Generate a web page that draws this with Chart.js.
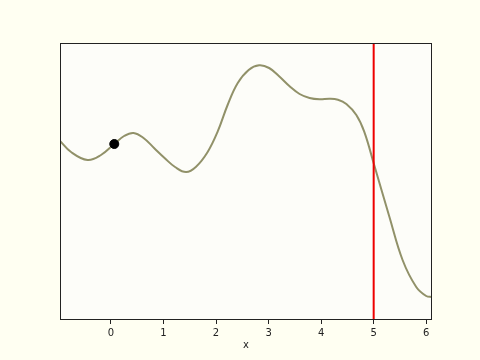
<!DOCTYPE html>
<html lang="en">
<head>
  <meta charset="UTF-8">
  <title>Curve</title>
  <style>
    html, body { margin: 0; padding: 0; background: #fffff2; }
    #wrap { width: 480px; height: 360px; }
  </style>
</head>
<body>

<div id="wrap">
  <canvas id="myChart" width="480" height="360"></canvas>
</div>

<script src="https://cdn.jsdelivr.net/npm/chart.js"></script>

<script>
  // curve
  const xs = [-0.985, -0.76, -0.446, -0.19, 0.063, 0.25, 0.43, 0.62, 0.82, 1.02, 1.22, 1.43, 1.62, 1.84,
              2.03, 2.22, 2.41, 2.62, 2.82, 3.01, 3.20, 3.40, 3.59, 3.78, 3.97, 4.16, 4.32, 4.48, 4.67, 4.82,
              5.01, 5.3, 5.55, 5.81, 6.0, 6.11];
  const ys = [1.80, 1.68, 1.60, 1.65, 1.76, 1.84, 1.87, 1.82, 1.72, 1.62, 1.53, 1.48, 1.533, 1.68,
              1.883, 2.15, 2.367, 2.50, 2.547, 2.52, 2.437, 2.337, 2.26, 2.22, 2.207, 2.213, 2.203, 2.16, 2.05, 1.883,
              1.55, 1.03, 0.60, 0.33, 0.24, 0.23];
  const dotX = [0.063];
  const dotY = [1.76];
  const markerX = 5;
  const tickValues = [0, 1, 2, 3, 4, 5, 6];
  const xMin = -0.97, xMax = 6.11;
  const yMin = 0, yMax = 2.77;

  const frame = {
    id: 'frame',
    beforeDraw(chart) {
      const c = chart.ctx, a = chart.chartArea;
      c.save();
      c.fillStyle = '#fffff2';
      c.fillRect(0, 0, chart.width, chart.height);
      c.fillStyle = '#fdfdf9';
      c.fillRect(a.left, a.top, a.right - a.left, a.bottom - a.top);
      c.restore();
    },
    afterDraw(chart) {
      const c = chart.ctx, a = chart.chartArea;
      c.save();
      c.strokeStyle = '#222';
      c.lineWidth = 1;
      c.strokeRect(a.left + 0.5, a.top + 0.5, a.right - a.left - 1, a.bottom - a.top - 1);
      c.restore();
    }
  };

  const ctx = document.getElementById('myChart').getContext('2d');
  const myChart = new Chart(ctx, {
    type: 'scatter',
    data: {
      datasets: [
        {
          data: xs.map((x, i) => ({ x: x, y: ys[i] })),
          showLine: true,
          borderColor: 'rgb(145, 145, 105)',
          borderWidth: 2,
          pointRadius: 0,
          tension: 0.4,
          order: 3
        },
        {
          data: [{ x: markerX, y: yMin }, { x: markerX, y: yMax }],
          showLine: true,
          borderColor: '#ee0000',
          borderWidth: 2,
          pointRadius: 0,
          order: 2
        },
        {
          data: dotX.map((x, i) => ({ x: x, y: dotY[i] })),
          backgroundColor: '#000',
          borderColor: '#000',
          pointRadius: 4.5,
          order: 1
        }
      ]
    },
    options: {
      responsive: false,
      animation: false,
      layout: { padding: { left: 60, top: 43, right: 48, bottom: 9 } },
      plugins: { legend: { display: false }, tooltip: { enabled: false } },
      scales: {
        x: {
          type: 'linear',
          min: xMin,
          max: xMax,
          afterBuildTicks: s => { s.ticks = tickValues.map(v => ({ value: v })); },
          afterFit: s => { s.height = 31; },
          border: { display: false },
          grid: { drawOnChartArea: false, drawTicks: true, tickLength: 4, color: '#222' },
          ticks: { color: '#222', padding: 3, maxRotation: 0, font: { family: 'DejaVu Sans', size: 10 } },
          title: { display: true, text: 'x', color: '#222', padding: 0, font: { family: 'DejaVu Sans', size: 10 } }
        },
        y: {
          display: false,
          min: yMin,
          max: yMax
        }
      }
    },
    plugins: [frame]
  });
</script>
</body>
</html>
